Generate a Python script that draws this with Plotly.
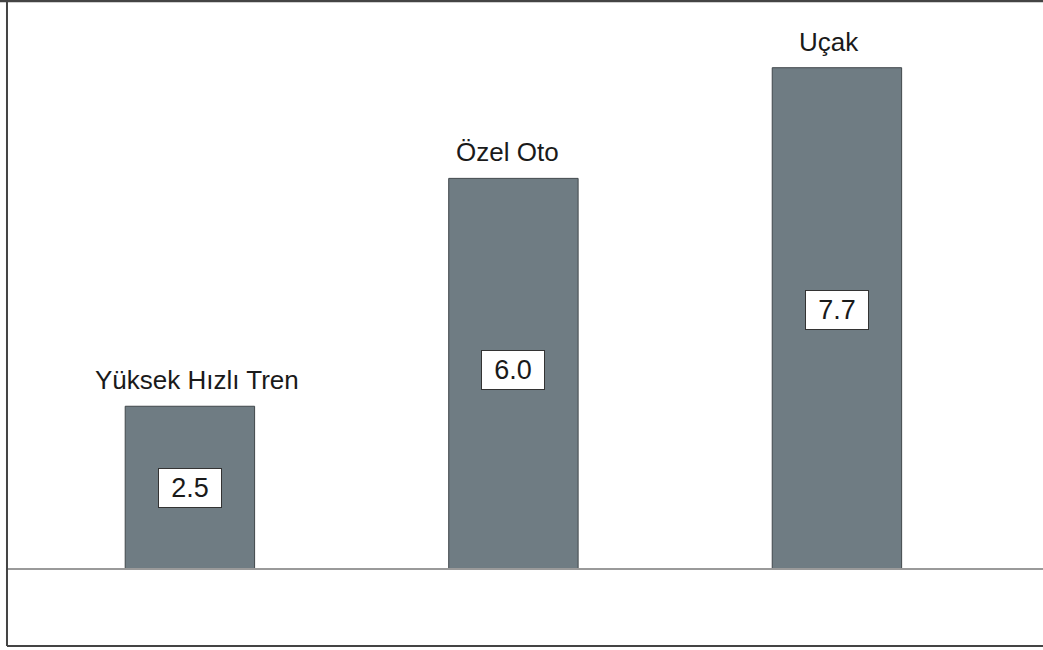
import plotly.graph_objects as go

# Travel modes and their values
categories = ["Yüksek Hızlı Tren", "Özel Oto", "Uçak"]
values = [2.5, 6.0, 7.7]
value_labels = ["2.5", "6.0", "7.7"]

bar_color = "#6f7c83"
text_color = "#1a1a1a"
font_family = "Liberation Sans, Arial, sans-serif"

# small per-label nudges (pixels) for the name and value captions
name_xshift = [7, -6, -8]
value_yshift = [0, 4, 8]

fig = go.Figure()
fig.add_trace(go.Bar(
    x=categories,
    y=values,
    width=0.40,
    marker=dict(color=bar_color, line=dict(color="#40474b", width=1)),
    hoverinfo="skip",
))

# Category names above each bar
for cat, val, dx in zip(categories, values, name_xshift):
    fig.add_annotation(
        x=cat, y=val, text=cat, showarrow=False,
        yanchor="bottom", yshift=9, xshift=dx,
        font=dict(family=font_family, size=26, color=text_color),
    )

# Boxed value labels in the middle of each bar
for cat, val, lab, dy in zip(categories, values, value_labels, value_yshift):
    fig.add_annotation(
        x=cat, y=val / 2, text=lab, showarrow=False,
        xanchor="center", yanchor="middle", yshift=dy,
        font=dict(family=font_family, size=27, color=text_color),
        bgcolor="white", bordercolor="#333333", borderwidth=1, borderpad=0,
        width=62, height=38,
    )

# Baseline
fig.add_shape(type="line", xref="paper", yref="y", x0=0.007, x1=1, y0=0, y1=0,
              line=dict(color="#9a9a9a", width=2), layer="above")
# Frame: top, left, bottom
fig.add_shape(type="line", xref="paper", yref="paper", x0=0, x1=1, y0=0.9985, y1=0.9985,
              line=dict(color="#444444", width=2.5))
fig.add_shape(type="line", xref="paper", yref="paper", x0=0.0067, x1=0.0067, y0=0.006, y1=1,
              line=dict(color="#444444", width=2))
fig.add_shape(type="line", xref="paper", yref="paper", x0=0.0067, x1=1, y0=0.006, y1=0.006,
              line=dict(color="#444444", width=2))

fig.update_layout(
    width=1043, height=650,
    margin=dict(l=0, r=0, t=0, b=0),
    paper_bgcolor="white", plot_bgcolor="white",
    showlegend=False,
    xaxis=dict(range=[-0.587, 2.637], showticklabels=False, showgrid=False,
               zeroline=False, showline=False, ticks=""),
    yaxis=dict(range=[-1.244, 8.740], showticklabels=False, showgrid=False,
               zeroline=False, showline=False, ticks=""),
)

fig.write_html("out.html")
